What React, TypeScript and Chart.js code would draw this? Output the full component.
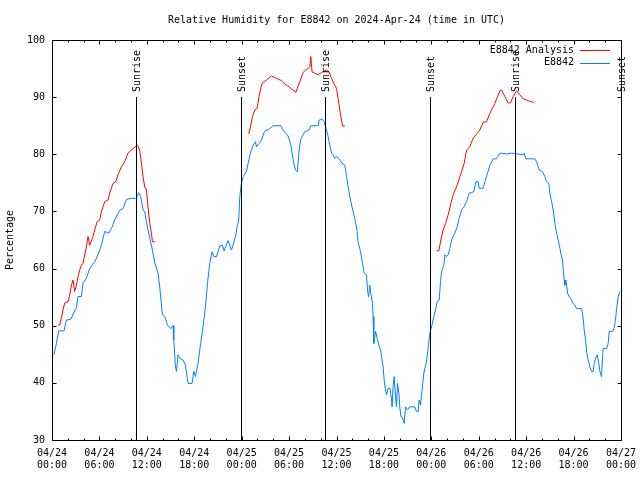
import React, { useEffect, useRef } from "react";
import { Chart, registerables } from "chart.js";

Chart.register(...registerables);

const TITLE = "Relative Humidity for E8842 on 2024-Apr-24 (time in UTC)";
const Y_TITLE = "Percentage";
const FONT = "DejaVu Sans Mono";

// x tick labels every 6 hours (hours since 04/24 00:00 UTC)
const tickDates = ["04/24", "04/24", "04/24", "04/24", "04/25", "04/25", "04/25", "04/25", "04/26", "04/26", "04/26", "04/26", "04/27"];
const tickTimes = ["00:00", "06:00", "12:00", "18:00", "00:00", "06:00", "12:00", "18:00", "00:00", "06:00", "12:00", "18:00", "00:00"];

// sunrise / sunset markers (hours)
const sunTimes = [10.6, 23.9, 34.6, 47.85, 58.65, 71.95];
const sunLabels = ["Sunrise", "Sunset", "Sunrise", "Sunset", "Sunrise", "Sunset"];

// E8842 observations [hour, %]
const e8842: [number, number][] = [
  [0.25, 44.9], [0.56, 46.9], [0.85, 49.1], [1.52, 49.1], [1.82, 51], [2.37, 51.1], [3.09, 53.2], [3.29, 55.1],
  [3.72, 55.1], [3.92, 57.4], [4.35, 58.3], [4.77, 60], [5.41, 61.2], [5.82, 62.4], [6.25, 64.1], [6.67, 66.5],
  [7.18, 66.2], [7.52, 67], [7.94, 68.5], [8.57, 70.2], [8.99, 70.5], [9.42, 72.1], [10.05, 72.3], [10.56, 72.3],
  [10.72, 72.5], [10.97, 73.3], [11.23, 72.6], [11.52, 70.2], [11.73, 70], [11.95, 68.2], [12.15, 66.75], [12.37, 65.3],
  [12.71, 63.25], [13.0, 61], [13.42, 59.2], [13.63, 56.8], [13.97, 51.9], [14.27, 51.6], [14.61, 50.1], [15.03, 49.5],
  [15.32, 50], [15.41, 47.5], [15.62, 42.8], [15.75, 42], [15.95, 44.9], [16.16, 44.3], [16.58, 44], [16.89, 43.1],
  [17.09, 41.1], [17.22, 39.9], [17.72, 39.9], [17.94, 42], [18.15, 41.1], [18.48, 43.4], [18.78, 46.6], [19.11, 49.8],
  [19.42, 53.3], [19.67, 57.4], [19.96, 60.9], [20.25, 62.95], [20.47, 62.1], [20.81, 62.1], [21.23, 63.95], [21.57, 64.1],
  [21.77, 63.1], [22.28, 64.9], [22.71, 63.25], [22.91, 64.1], [23.22, 65.6], [23.44, 67.5], [23.63, 68.5], [23.76, 72.6],
  [23.97, 74.9], [24.18, 76.1], [24.61, 77], [24.81, 78.4], [25.11, 80.2], [25.44, 81.6], [25.75, 82.2], [25.87, 81.3],
  [26.2, 81.9], [26.51, 82.5], [26.8, 83.7], [27.05, 84.25], [27.34, 84.25], [27.97, 85], [28.95, 85], [29.24, 84.25],
  [29.87, 83.2], [30.18, 81.9], [30.38, 80.2], [30.59, 78.4], [30.81, 77.25], [31.06, 76.95], [31.23, 80.2], [31.44, 82.5],
  [31.77, 83.4], [31.99, 83.95], [32.53, 84.25], [32.75, 85], [33.67, 85], [33.8, 86], [34.23, 86.1], [34.43, 85.7],
  [34.73, 84.25], [34.94, 83.1], [35.15, 81.6], [35.37, 80.2], [35.57, 79.9], [35.78, 79.3], [36.08, 79.6], [36.42, 79],
  [36.71, 78.4], [37.05, 78.1], [37.27, 76.1], [37.47, 74.3], [37.77, 72], [38.1, 69.95], [38.41, 68.2], [38.61, 66.5],
  [38.73, 64.7], [39.04, 62.95], [39.29, 60.9], [39.49, 59.2], [39.8, 58.9], [39.92, 56.25], [40.05, 55.1], [40.22, 57.1],
  [40.34, 55.7], [40.56, 53.9], [40.63, 51.6], [40.72, 46.9], [40.94, 49], [41.14, 47.8], [41.35, 46.6], [41.57, 45.75],
  [41.7, 44.6], [41.9, 42.8], [42.03, 40.5], [42.2, 38.75], [42.33, 37.9], [42.53, 39], [42.78, 39], [42.96, 37],
  [43.04, 35.8], [43.16, 39.3], [43.29, 41.1], [43.47, 37.6], [43.59, 35.8], [43.72, 39.9], [43.89, 38.2], [44.01, 35.8],
  [44.14, 34.1], [44.3, 34], [44.43, 33.5], [44.56, 32.9], [44.73, 35.8], [44.99, 35.25], [45.28, 35.8], [45.91, 35.8],
  [46.13, 34.95], [46.33, 34.95], [46.46, 37], [46.63, 36.1], [46.76, 37.8], [46.89, 39.6], [47.05, 41.7], [47.27, 43.1],
  [47.39, 43.7], [47.52, 45.2], [47.68, 47.2], [47.81, 48.7], [48.03, 49.8], [48.32, 51.6], [48.53, 52.75], [48.73, 54.2],
  [48.99, 54.5], [49.16, 57.7], [49.29, 59.45], [49.58, 60.6], [49.71, 62.4], [49.92, 62.1], [50.13, 62.4], [50.34, 63.5],
  [50.63, 65.3], [50.97, 66.2], [51.27, 67.3], [51.52, 68.8], [51.82, 70.25], [52.11, 70.8], [52.46, 71.7], [52.78, 73.2],
  [53.09, 73.3], [53.38, 73.5], [53.63, 75.2], [53.92, 75.2], [54.05, 74.05], [54.56, 74.05], [54.77, 75.2], [55.11, 76.7],
  [55.41, 78.1], [55.82, 79.2], [56.25, 79.2], [56.58, 80.05], [56.89, 80.2], [57.52, 80.05], [58.15, 80.2], [58.99, 80.05],
  [59.62, 79.9], [59.77, 80.2], [59.96, 79.2], [61.1, 79.2], [61.32, 78.7], [61.65, 77.25], [62.08, 76.95], [62.37, 76.1],
  [62.58, 75.2], [62.87, 74.9], [63.0, 73.2], [63.22, 71.7], [63.42, 70.25], [63.63, 67.9], [63.85, 66.2], [64.05, 65],
  [64.27, 63.55], [64.48, 62], [64.61, 61.5], [64.68, 60], [64.81, 58], [64.9, 57.1], [65.03, 58], [65.24, 55.7],
  [65.41, 55.1], [65.66, 54.8], [65.87, 54], [66.16, 53.6], [66.38, 53], [67.01, 53], [67.22, 51.3], [67.34, 49.25],
  [67.52, 47.5], [67.65, 45.45], [67.85, 44], [68.06, 42.8], [68.28, 42], [68.48, 42], [68.61, 43.4], [68.78, 44.3],
  [68.99, 44.9], [69.2, 43.4], [69.33, 42], [69.54, 41.1], [69.67, 44.6], [69.75, 46], [70.18, 46], [70.38, 46.9],
  [70.51, 49], [70.94, 49], [71.1, 49.5], [71.23, 50.4], [71.35, 51.6], [71.44, 53], [71.65, 55.1], [71.86, 56],
];

// E8842 Analysis, three separate runs [hour, %]
const analysisRun1: [number, number][] = [
  [0.76, 50.1], [0.97, 50.1], [1.19, 51.3], [1.39, 52.75], [1.61, 54], [2.03, 54.2], [2.24, 55.4], [2.46, 57.1],
  [2.66, 58], [2.87, 56], [3.09, 57.1], [3.29, 58.6], [3.51, 59.75], [3.72, 60.6], [3.92, 60.9], [4.14, 62.4],
  [4.35, 63.8], [4.56, 65.6], [4.77, 64.1], [5.11, 65.3], [5.41, 66.75], [5.7, 68.2], [6.04, 68.5], [6.25, 69.95],
  [6.67, 71.7], [7.09, 72], [7.3, 73.2], [7.72, 74.9], [8.06, 75.2], [8.35, 76.4], [8.78, 77.8], [9.2, 78.7],
  [9.62, 80.2], [10.25, 81], [10.81, 81.6], [11.1, 80.75], [11.32, 78.4], [11.52, 76.1], [11.73, 74.3], [11.95, 73.75],
  [12.15, 70.8], [12.37, 67.9], [12.58, 66.2], [12.71, 64.7], [13.0, 64.7],
];
const analysisRun2: [number, number][] = [
  [24.9, 83.55], [25.11, 84.8], [25.37, 86.6], [25.66, 87.75], [25.95, 88], [26.2, 90.1], [26.51, 92.1], [26.71, 92.6],
  [27.14, 93], [27.77, 93.7], [28.41, 93.3], [29.04, 92.9], [29.46, 92.3], [30.09, 91.7], [30.85, 90.85], [31.35, 92.7],
  [31.77, 94.3], [32.11, 94.75], [32.41, 95.05], [32.62, 95.3], [32.75, 97.1], [32.91, 94.4], [33.25, 94.2], [33.67, 93.9],
  [34.1, 94.3], [34.73, 94.75], [35.06, 94.4], [35.37, 93.3], [35.66, 92.4], [36.0, 91.5], [36.2, 89.8], [36.42, 87.75],
  [36.63, 86], [36.76, 84.95], [37.05, 84.95],
];
const analysisRun3: [number, number][] = [
  [48.66, 63.1], [48.95, 63.1], [49.2, 65], [49.49, 66.75], [49.8, 67.9], [50.13, 69.4], [50.47, 71.4], [50.76, 72.9],
  [51.19, 74.3], [51.48, 75.5], [51.82, 76.95], [52.15, 78.4], [52.46, 80.75], [52.87, 81.3], [53.29, 82.8], [53.72, 83.55],
  [54.14, 84.25], [54.56, 85.6], [54.99, 85.7], [55.32, 86.9], [55.62, 87.75], [56.04, 88.9], [56.38, 90.1], [56.67, 91.1],
  [56.89, 91.25], [57.3, 90.1], [57.72, 89], [58.03, 89], [58.35, 90.1], [58.78, 91.1], [59.2, 90.4], [59.62, 89.7],
  [60.25, 89.4], [60.65, 89.2], [60.97, 89.1],
];

const RED = "#ff0000";
const BLUE = "#0080ff";

const toPts = (arr: [number, number][]) => arr.map(([x, y]) => ({ x, y }));
const withGaps = (runs: [number, number][][]) => {
  const out: { x: number; y: number | null }[] = [];
  runs.forEach((r, i) => {
    if (i > 0) out.push({ x: (runs[i - 1][runs[i - 1].length - 1][0] + r[0][0]) / 2, y: null });
    out.push(...toPts(r));
  });
  return out;
};

const decor = {
  id: "decor",
  afterDatasetsDraw(chart: any) {
    const ctx = chart.ctx as CanvasRenderingContext2D;
    const { left, right, top, bottom } = chart.chartArea;
    const xs = chart.scales.x;
    const ys = chart.scales.y;
    const L = Math.round(left) + 0.5;
    const R = Math.round(right) + 0.5;
    const T = Math.round(top) + 0.5;
    const B = Math.round(bottom) + 0.5;
    ctx.save();
    ctx.strokeStyle = "#000";
    ctx.lineWidth = 1;

    // sunrise / sunset lines
    sunTimes.forEach((t, i) => {
      const x = Math.round(xs.getPixelForValue(t)) + 0.5;
      ctx.beginPath();
      ctx.moveTo(x, Math.round(ys.getPixelForValue(90)));
      ctx.lineTo(x, B);
      ctx.stroke();
      ctx.save();
      ctx.translate(x + 1, 92);
      ctx.rotate(-Math.PI / 2);
      ctx.fillStyle = "#000";
      ctx.font = `10px "${FONT}"`;
      ctx.textAlign = "left";
      ctx.textBaseline = "middle";
      ctx.fillText(sunLabels[i], 0, 0);
      ctx.restore();
    });

    // border
    ctx.beginPath();
    ctx.rect(L, T, R - L, B - T);
    ctx.stroke();

    // x ticks (every 2 h, major every 6 h), mirrored on top
    ctx.beginPath();
    for (let h = 0; h <= 72; h += 2) {
      const x = Math.round(xs.getPixelForValue(h)) + 0.5;
      const len = h % 6 === 0 ? 4 : 2;
      ctx.moveTo(x, B);
      ctx.lineTo(x, B - len);
      ctx.moveTo(x, T);
      ctx.lineTo(x, T + len);
    }
    // y ticks, mirrored on right
    for (let v = 30; v <= 100; v += 10) {
      const y = Math.round(ys.getPixelForValue(v)) + 0.5;
      ctx.moveTo(L, y);
      ctx.lineTo(L + 4, y);
      ctx.moveTo(R, y);
      ctx.lineTo(R - 4, y);
    }
    ctx.stroke();

    // legend
    ctx.font = `10px "${FONT}"`;
    ctx.fillStyle = "#000";
    ctx.textAlign = "right";
    ctx.textBaseline = "middle";
    chart.data.datasets.forEach((ds: any, i: number) => {
      const y = 50 + i * 12.5;
      ctx.fillText(ds.label, 574, y);
      ctx.strokeStyle = ds.borderColor;
      ctx.beginPath();
      ctx.moveTo(580, Math.round(y) + 0.5);
      ctx.lineTo(610, Math.round(y) + 0.5);
      ctx.stroke();
    });

    // title
    ctx.fillStyle = "#000";
    ctx.textAlign = "center";
    ctx.fillText(TITLE, (left + right) / 2, 20);

    // y title
    ctx.save();
    ctx.translate(10, (top + bottom) / 2);
    ctx.rotate(-Math.PI / 2);
    ctx.textAlign = "center";
    ctx.textBaseline = "middle";
    ctx.fillText(Y_TITLE, 0, 0);
    ctx.restore();

    ctx.restore();
  },
};

export default function App() {
  const ref = useRef<HTMLCanvasElement | null>(null);
  useEffect(() => {
    document.body.style.margin = "0";
    const canvas = ref.current;
    if (!canvas) return;
    const chart = new Chart(canvas, {
      type: "line",
      data: {
        datasets: [
          {
            label: "E8842 Analysis",
            data: withGaps([analysisRun1, analysisRun2, analysisRun3]) as any,
            borderColor: RED,
            backgroundColor: RED,
            borderWidth: 1,
            pointRadius: 0,
            spanGaps: false,
            tension: 0,
          },
          {
            label: "E8842",
            data: toPts(e8842) as any,
            borderColor: BLUE,
            backgroundColor: BLUE,
            borderWidth: 1,
            pointRadius: 0,
            tension: 0,
          },
        ],
      },
      options: {
        responsive: false,
        animation: false,
        events: [],
        layout: { padding: { top: 40, right: 19, left: 0, bottom: 0 } },
        plugins: {
          legend: { display: false },
          title: { display: false },
          tooltip: { enabled: false },
        },
        scales: {
          x: {
            type: "linear",
            min: 0,
            max: 72,
            grid: { display: false, drawTicks: false },
            border: { display: false },
            ticks: {
              stepSize: 6,
              autoSkip: false,
              maxRotation: 0,
              padding: 7,
              color: "#000",
              font: { family: FONT, size: 10, lineHeight: 1.2 },
              callback: (v: any) => {
                const i = Math.round(Number(v) / 6);
                return [tickDates[i], tickTimes[i]];
              },
            },
            afterFit: (s: any) => {
              s.height = 40;
              s.paddingLeft = 0;
              s.paddingRight = 0;
            },
          },
          y: {
            min: 30,
            max: 100,
            grid: { display: false, drawTicks: false },
            border: { display: false },
            ticks: {
              stepSize: 10,
              padding: 7,
              color: "#000",
              font: { family: FONT, size: 10 },
            },
            afterFit: (s: any) => {
              s.width = 52;
              s.paddingTop = 0;
              s.paddingBottom = 0;
            },
          },
        },
      },
      plugins: [decor],
    });
    return () => chart.destroy();
  }, []);
  return <canvas ref={ref} width={640} height={480} style={{ display: "block" }} />;
}
